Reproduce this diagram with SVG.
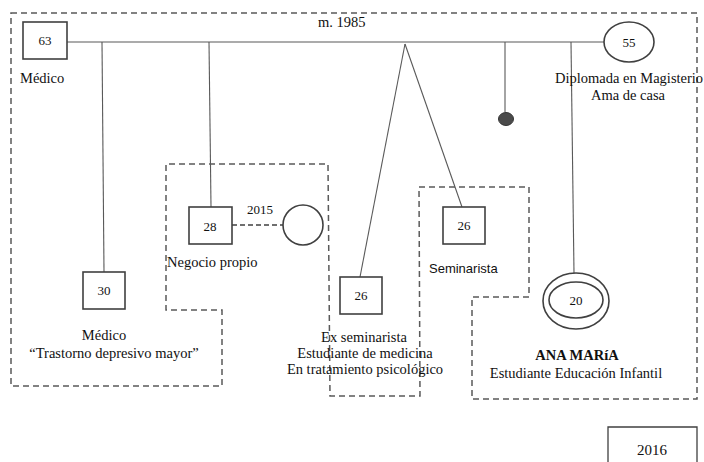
<svg xmlns="http://www.w3.org/2000/svg" width="704" height="462" viewBox="0 0 704 462">
<style>
.bg{fill:#ffffff}
.boundary{fill:none;stroke:#5a5a5a;stroke-width:1.5;stroke-dasharray:6 4}
.box{fill:#ffffff;stroke:#404040;stroke-width:1.6}
.line{fill:none;stroke:#595959;stroke-width:1.1}
.dline{fill:none;stroke:#404040;stroke-width:1.5;stroke-dasharray:5 3}
.t{font-family:"Liberation Serif","Times New Roman",serif;font-size:14.5px;fill:#111}
.n{font-family:"Liberation Serif","Times New Roman",serif;font-size:13px;fill:#111;text-anchor:middle}
.c{text-anchor:middle}
.b{font-weight:bold}
.s{font-family:"Liberation Sans",Arial,sans-serif;font-size:13px;fill:#111}
</style>
<rect class="bg" x="0" y="0" width="704" height="462"/>
<g id="household-boundary">
<polygon class="boundary" points="11,13 697,13 697,399 472,399 472,297 529,297 529,187 419,187 420,396 330,396 328,164 166,164 166,310 222,310 222,386 11,386"/>
</g>
<g id="connectors">
<line class="line" x1="67" y1="42" x2="604" y2="42"/>
<line class="line" x1="102" y1="42" x2="104" y2="272"/>
<line class="line" x1="209" y1="42" x2="211" y2="207"/>
<line class="line" x1="405" y1="44" x2="360" y2="277"/>
<line class="line" x1="405" y1="44" x2="462" y2="207"/>
<line class="line" x1="505" y1="42" x2="505" y2="112"/>
<line class="line" x1="571" y1="42" x2="574" y2="273"/>
<line class="dline" x1="232" y1="225" x2="283" y2="225"/>
</g>
<g id="marriage-label"><text class="t" x="318" y="27">m. 1985</text></g>
<g id="father">
<rect class="box" x="23" y="22" width="44" height="37"/>
<text class="n" x="45" y="45">63</text>
<text class="t" x="20" y="83">Médico</text>
</g>
<g id="mother">
<ellipse class="box" cx="629" cy="42" rx="25" ry="20"/>
<text class="n" x="629" y="47">55</text>
<text class="t c" x="629" y="83">Diplomada en Magisterio</text>
<text class="t c" x="628" y="100">Ama de casa</text>
</g>
<g id="son-30">
<rect class="box" x="83" y="272" width="42" height="37"/>
<text class="n" x="104" y="295">30</text>
<text class="t c" x="104" y="340">Médico</text>
<text class="t c" x="114" y="358">“Trastorno depresivo mayor”</text>
</g>
<g id="son-28">
<rect class="box" x="189" y="207" width="43" height="37"/>
<text class="n" x="210" y="231">28</text>
<text class="t" x="167" y="267">Negocio propio</text>
</g>
<g id="partner-28">
<ellipse class="box" cx="303" cy="225" rx="20" ry="20"/>
<text class="n" x="260" y="214">2015</text>
</g>
<g id="son-26-ex">
<rect class="box" x="340" y="277" width="42" height="37"/>
<text class="n" x="361" y="300">26</text>
<text class="t c" x="364" y="342">Ex seminarista</text>
<text class="t c" x="365" y="358">Estudiante de medicina</text>
<text class="t c" x="365" y="374">En tratamiento psicológico</text>
</g>
<g id="son-26-sem">
<rect class="box" x="443" y="207" width="42" height="37"/>
<text class="n" x="464" y="230">26</text>
<text class="s" x="429" y="273">Seminarista</text>
</g>
<g id="deceased">
<ellipse cx="506" cy="119" rx="7.5" ry="6.5" fill="#4a4a4a" stroke="#333" stroke-width="1"/>
</g>
<g id="ana-maria">
<ellipse class="box" cx="576" cy="301" rx="33" ry="28"/>
<ellipse class="box" cx="576" cy="300" rx="27" ry="18"/>
<text class="n" x="576" y="305">20</text>
<text class="t c b" x="577" y="360">ANA MARíA</text>
<text class="t c" x="576" y="378">Estudiante Educación Infantil</text>
</g>
<g id="year-box">
<polyline fill="none" stroke="#404040" stroke-width="1.3" points="608,462 608,427 697,427 697,462"/>
<text class="t c" x="652" y="455" style="font-size:15px">2016</text>
</g>
</svg>
